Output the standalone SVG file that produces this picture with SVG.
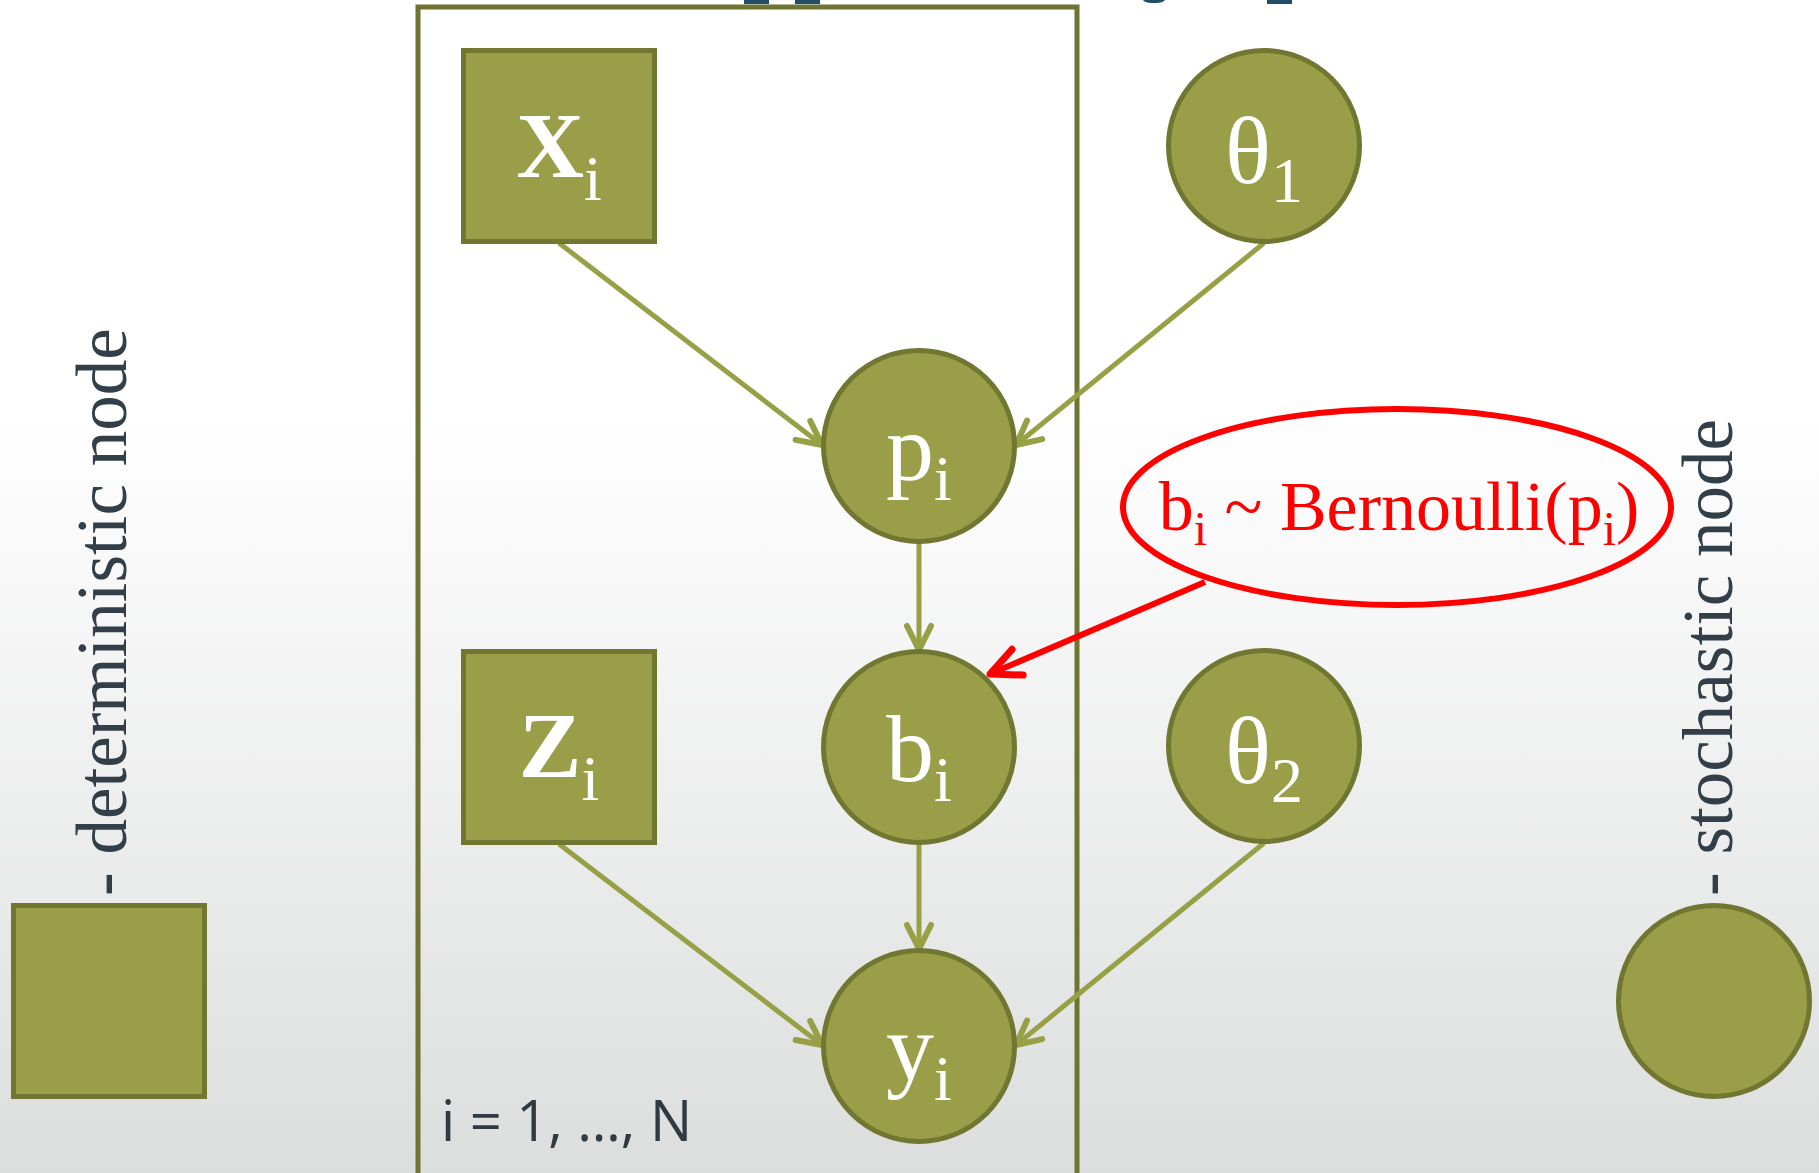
<svg xmlns="http://www.w3.org/2000/svg" width="1819" height="1173" viewBox="0 0 1819 1173">
<defs>
<linearGradient id="bg" x1="0" y1="0" x2="0" y2="1173" gradientUnits="userSpaceOnUse">
<stop offset="0" stop-color="#ffffff"/>
<stop offset="0.35" stop-color="#ffffff"/>
<stop offset="1" stop-color="#dcdedd"/>
</linearGradient>
<marker id="ag" markerUnits="userSpaceOnUse" markerWidth="40" markerHeight="40" viewBox="-30 -20 40 40" refX="0" refY="0" orient="auto">
<path d="M -24 -12 L 0 0 L -24 12" fill="none" stroke="#98a046" stroke-width="6" stroke-linecap="round" stroke-linejoin="round"/>
</marker>
<marker id="ar" markerUnits="userSpaceOnUse" markerWidth="50" markerHeight="50" viewBox="-35 -25 50 50" refX="0" refY="0" orient="auto">
<path d="M -30 -14 L 0 0 L -30 14" fill="none" stroke="#ff0000" stroke-width="7" stroke-linecap="round" stroke-linejoin="round"/>
</marker>
</defs>
<style>
.node{fill:#9a9e48;stroke:#717631;stroke-width:5}
.lbl{fill:#ffffff;font-family:"Liberation Serif","Times New Roman",serif;font-size:96px}
.bold{font-weight:bold;font-size:94px}
.sub{font-size:64px}
.edge{stroke:#98a046;stroke-width:5;fill:none;marker-end:url(#ag)}
.side{fill:#333f48;font-family:"Liberation Serif","Times New Roman",serif;font-size:71px}
</style>
<rect x="0" y="0" width="1819" height="1173" fill="url(#bg)"/>
<g id="title-fragments" fill="#1f4e66">
<rect x="744" y="0" width="25" height="4"/>
<rect x="795" y="0" width="25" height="4"/>
<rect x="1143" y="-4" width="22" height="7" rx="9" ry="4"/>
<rect x="1267" y="0" width="25" height="4"/>
</g>
<g id="plate">
<rect x="418" y="7" width="659" height="1180" fill="none" stroke="#6f7432" stroke-width="5"/>
<text x="441" y="1141" font-family="'Open Sans',sans-serif" font-size="56" fill="#2f3a42">i = 1, …, N</text>
</g>
<g id="connectors">
<line class="edge" x1="559" y1="243" x2="822" y2="445"/>
<line class="edge" x1="1264" y1="243" x2="1016" y2="445"/>
<line class="edge" x1="919" y1="543" x2="919" y2="650"/>
<line class="edge" x1="919" y1="844" x2="919" y2="949"/>
<line class="edge" x1="559" y1="844" x2="822" y2="1045"/>
<line class="edge" x1="1264" y1="843" x2="1016" y2="1045"/>
<line x1="1205" y1="582" x2="990" y2="674" stroke="#ff0000" stroke-width="6" marker-end="url(#ar)"/>
</g>
<g id="node-x">
<rect class="node" x="463.5" y="50.5" width="191" height="191"/>
<text class="lbl" x="559" y="177" text-anchor="middle"><tspan class="bold">X</tspan><tspan class="sub" dy="23">i</tspan></text>
</g>
<g id="node-z">
<rect class="node" x="463.5" y="651.5" width="191" height="191"/>
<text class="lbl" x="559" y="777" text-anchor="middle"><tspan class="bold">Z</tspan><tspan class="sub" dy="23">i</tspan></text>
</g>
<g id="node-theta1">
<circle class="node" cx="1264" cy="146" r="95.5"/>
<text class="lbl" x="1264" y="183" text-anchor="middle">θ<tspan class="sub" dy="19">1</tspan></text>
</g>
<g id="node-theta2">
<circle class="node" cx="1264" cy="746" r="95.5"/>
<text class="lbl" x="1264" y="783" text-anchor="middle">θ<tspan class="sub" dy="19">2</tspan></text>
</g>
<g id="node-p">
<circle class="node" cx="919" cy="446" r="95.5"/>
<text class="lbl" x="919" y="480" text-anchor="middle">p<tspan class="sub" dy="20">i</tspan></text>
</g>
<g id="node-b">
<circle class="node" cx="919" cy="747" r="95.5"/>
<text class="lbl" x="919" y="781" text-anchor="middle">b<tspan class="sub" dy="20">i</tspan></text>
</g>
<g id="node-y">
<circle class="node" cx="919" cy="1046" r="95.5"/>
<text class="lbl" x="919" y="1080" text-anchor="middle">y<tspan class="sub" dy="20">i</tspan></text>
</g>
<g id="annotation">
<ellipse cx="1397" cy="507" rx="274" ry="98" fill="none" stroke="#ff0000" stroke-width="6"/>
<text x="1399" y="530" text-anchor="middle" font-family="'Liberation Serif','Times New Roman',serif" font-size="70" fill="#ff0000">b<tspan font-size="48" dy="15">i</tspan><tspan dy="-15"> ~ Bernoulli(p</tspan><tspan font-size="48" dy="15">i</tspan><tspan dy="-15">)</tspan></text>
</g>
<g id="legend-deterministic">
<rect class="node" x="13.5" y="905.5" width="191" height="191"/>
<text class="side" transform="translate(126 896) rotate(-90)">- deterministic node</text>
</g>
<g id="legend-stochastic">
<circle class="node" cx="1714" cy="1001" r="95.5"/>
<text class="side" transform="translate(1732 896) rotate(-90)">- stochastic node</text>
</g>
</svg>
